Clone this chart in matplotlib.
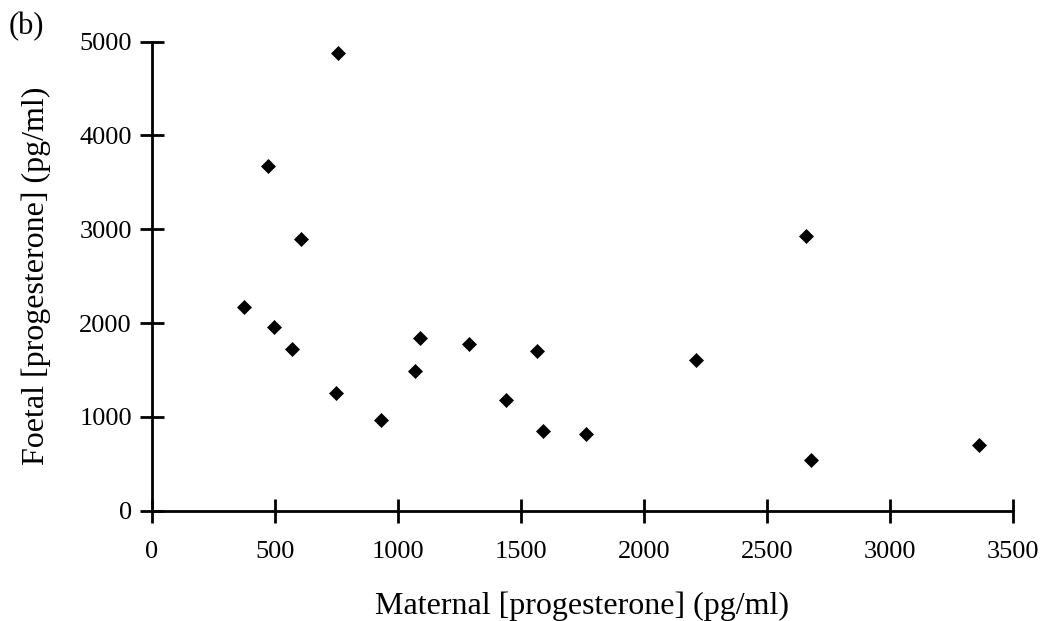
import matplotlib
matplotlib.use("Agg")
import matplotlib.pyplot as plt

# maternal vs foetal progesterone, pg/ml
maternal = [374, 470, 497, 571, 604, 749, 758, 932, 1069, 1089,
            1288, 1440, 1566, 1588, 1765, 2212, 2659, 2678, 3364]
foetal = [2168, 3678, 1962, 1727, 2893, 1258, 4876, 967, 1493, 1841,
          1777, 1180, 1703, 846, 821, 1607, 2929, 540, 697]

xticks = [0, 500, 1000, 1500, 2000, 2500, 3000, 3500]
yticks = [0, 1000, 2000, 3000, 4000, 5000]

plt.rcParams['font.family'] = ['Liberation Serif', 'DejaVu Serif']

fig = plt.figure(figsize=(10.43, 6.21), dpi=100)
ax = fig.add_axes([0.1457, 0.1776, 0.8253, 0.7553])

ax.plot(maternal, foetal, linestyle='none', marker='D', markersize=7,
        color='black', markeredgewidth=0.5)

ax.set_xlim(0, 3500)
ax.set_ylim(0, 5000)
ax.set_xticks(xticks)
ax.set_yticks(yticks)
ax.tick_params(direction='inout', length=17, width=2, labelsize=19)
ax.tick_params(axis='x', pad=13.5)
ax.tick_params(axis='y', pad=6)

ax.spines['top'].set_visible(False)
ax.spines['right'].set_visible(False)
ax.spines['left'].set_linewidth(2)
ax.spines['bottom'].set_linewidth(2)

ax.set_xlabel('Maternal [progesterone] (pg/ml)', fontsize=23, labelpad=20)
ax.set_ylabel('Foetal [progesterone] (pg/ml)', fontsize=23, labelpad=20)

fig.text(0.008, 0.957, '(b)', fontsize=22, ha='left', va='center')

fig.savefig('out.png', dpi=100)
